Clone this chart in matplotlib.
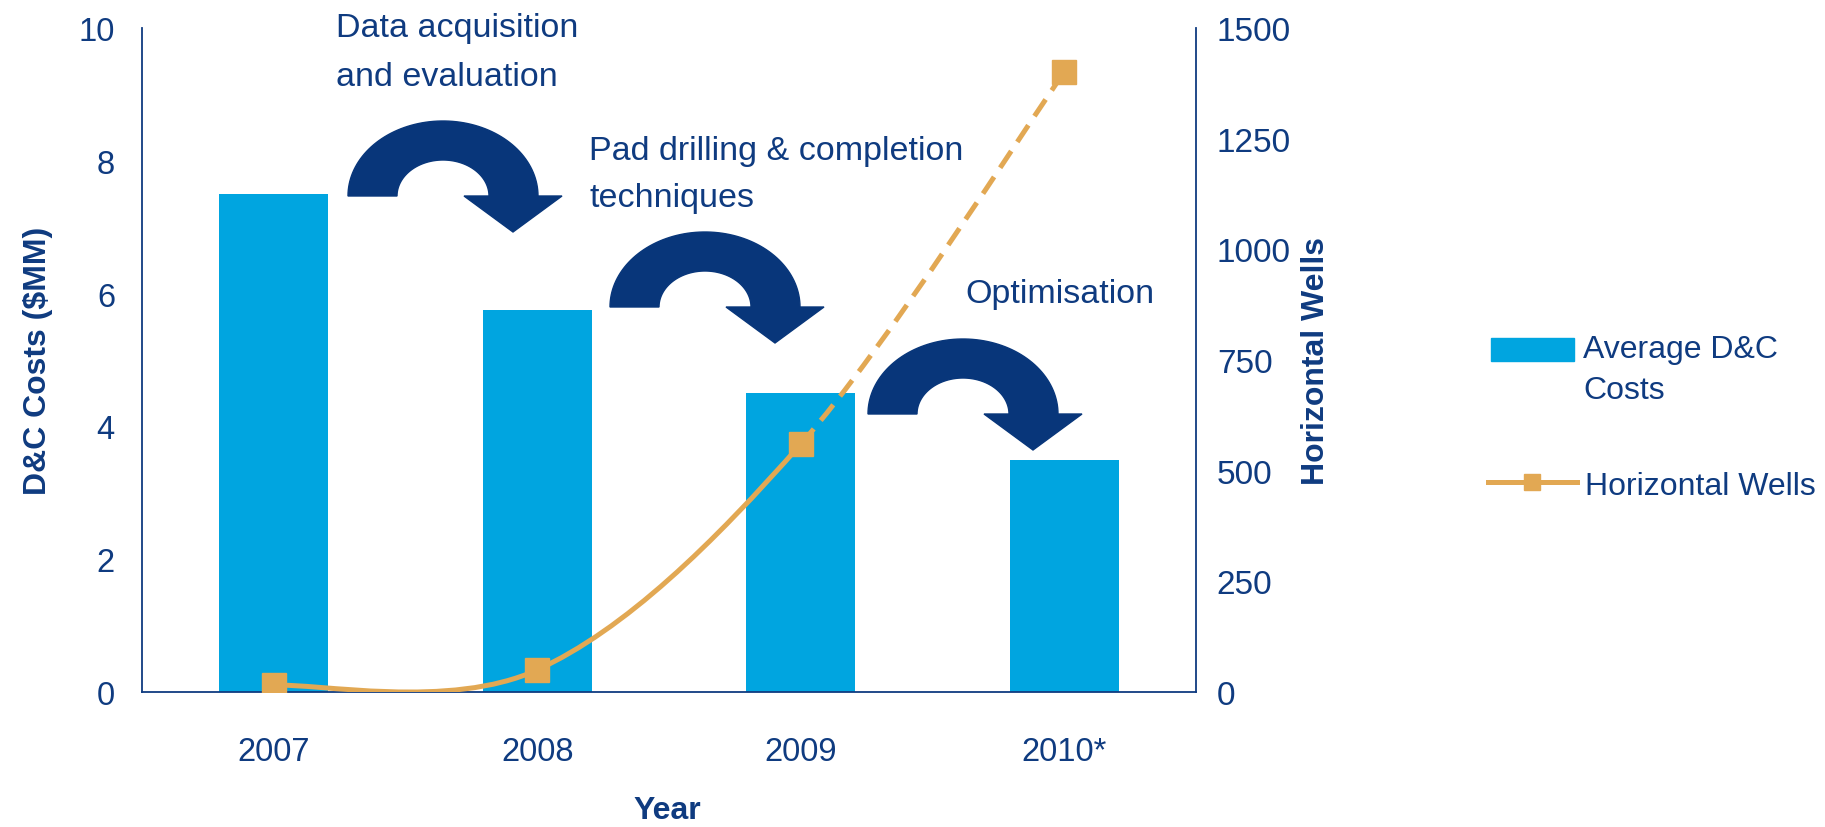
import numpy as np
import matplotlib.pyplot as plt
from matplotlib.path import Path
from matplotlib.patches import PathPatch, Polygon, Rectangle
from matplotlib.lines import Line2D

years = ["2007", "2008", "2009", "2010*"]
costs = [7.5, 5.75, 4.5, 3.5]      # $MM
wells = [15, 50, 560, 1400]        # horizontal wells
left_ticks = [0, 2, 4, 6, 8, 10]
right_ticks = [0, 250, 500, 750, 1000, 1250, 1500]

navy = "#0f3b80"
arrow_col = "#08367a"
blue = "#00a5e0"
orange = "#e2a853"

plt.rcParams['font.family'] = ['Liberation Sans', 'DejaVu Sans']

W, H = 1825, 828
fig = plt.figure(figsize=(W / 100, H / 100), dpi=100)


def fx(px):
    return px / W


def fy(py):
    return 1 - py / H


ax = fig.add_axes([fx(142), fy(693), (1196 - 142) / W, (693 - 29) / H])
x = np.arange(len(years))
ax.bar(x, costs, width=0.415, color=blue, zorder=2)
ax.set_xlim(-0.5, 3.5)
ax.set_ylim(0, 10)
ax.set_yticks(left_ticks)
ax.set_xticks(x, years)
ax.tick_params(length=0, labelsize=23.5, labelcolor=navy)
ax.tick_params(axis='x', pad=32)
ax.tick_params(axis='y', pad=19.5)
for s in ['top', 'right']:
    ax.spines[s].set_visible(False)
for s in ['left', 'bottom']:
    ax.spines[s].set_color(navy)
    ax.spines[s].set_linewidth(1.3)

ax2 = ax.twinx()
ax2.set_ylim(0, 1500)
ax2.set_yticks(right_ticks)
ax2.tick_params(length=0, labelsize=24, labelcolor=navy, pad=15)
for s in ['top', 'left', 'bottom']:
    ax2.spines[s].set_visible(False)
ax2.spines['right'].set_color(navy)
ax2.spines['right'].set_linewidth(1.3)


# smoothed line like the spreadsheet one (catmull-rom bezier through the points)
def bezier_segments(xs, ys):
    pts = np.column_stack([xs, ys]).astype(float)
    n = len(pts)
    segs = []
    for i in range(n - 1):
        p0 = pts[max(i - 1, 0)]
        p1 = pts[i]
        p2 = pts[i + 1]
        p3 = pts[min(i + 2, n - 1)]
        c1 = p1 + (p2 - p0) / 6
        c2 = p2 - (p3 - p1) / 6
        segs.append([p1, c1, c2, p2])
    return segs


def seg_path(segs):
    verts = [segs[0][0]]
    codes = [Path.MOVETO]
    for s in segs:
        verts += [s[1], s[2], s[3]]
        codes += [Path.CURVE4] * 3
    return Path(verts, codes)


segs = bezier_segments(x, wells)
solid = PathPatch(seg_path(segs[:2]), fill=False, ec=orange, lw=3.6,
                  transform=ax2.transData, zorder=3, capstyle='round')
dashed = PathPatch(seg_path(segs[2:]), fill=False, ec=orange, lw=3.6,
                   ls=(0, (4, 2.2)), transform=ax2.transData, zorder=3)
ax2.add_patch(solid)
ax2.add_patch(dashed)
ax2.plot(x, wells, ls='none', marker='s', ms=17, color=orange, zorder=4)

# axis titles
fig.text(fx(38), fy(361), "D&C Costs ($MM)", rotation=90, ha='center', va='center',
         fontsize=23, fontweight='bold', color=navy)
fig.text(fx(1316), fy(361), "Horizontal Wells", rotation=90, ha='center', va='center',
         fontsize=23, fontweight='bold', color=navy)
fig.text(fx(667), fy(811), "Year", ha='center', va='center',
         fontsize=23, fontweight='bold', color=navy)


# the three curved arrows
def curved_arrow(cx, cy):
    t = np.linspace(np.pi, 0, 80)
    outer = np.column_stack([cx + 95 * np.cos(t), cy - 75 * np.sin(t)])
    head = np.array([[cx + 119, cy], [cx + 70, cy + 36], [cx + 21, cy]])
    inner = np.column_stack([cx + 46 * np.cos(t[::-1]), cy - 36 * np.sin(t[::-1])])
    pts = np.vstack([outer, head, inner])
    pts = np.column_stack([fx(pts[:, 0]), fy(pts[:, 1])])
    fig.add_artist(Polygon(pts, closed=True, color=arrow_col, transform=fig.transFigure))


for cx, cy in [(443, 197), (705, 308), (963, 415)]:
    curved_arrow(cx, cy)

# step labels, one text per line (baselines)
steps = [
    (336, [(37, "Data acquisition"), (86, "and evaluation")]),
    (589, [(160, "Pad drilling & completion"), (207, "techniques")]),
    (965, [(303, "Optimisation")]),
]
for left, lines in steps:
    for base, txt in lines:
        fig.text(fx(left), fy(base), txt, ha='left', va='baseline',
                 fontsize=24.5, color=navy)

# legend
fig.add_artist(Rectangle((fx(1491), fy(362)), (1574 - 1491) / W, 23 / H,
                         color=blue, transform=fig.transFigure))
fig.text(fx(1583), fy(358), "Average D&C", ha='left', va='baseline', fontsize=23, color=navy)
fig.text(fx(1583), fy(399), "Costs", ha='left', va='baseline', fontsize=23, color=navy)
fig.add_artist(Line2D([fx(1488), fx(1577)], [fy(483), fy(483)], color=orange, lw=3.6,
                      transform=fig.transFigure))
fig.add_artist(Line2D([fx(1532)], [fy(483)], color=orange, ls='none', marker='s', ms=12,
                      transform=fig.transFigure))
fig.text(fx(1585), fy(495), "Horizontal Wells", ha='left', va='baseline',
         fontsize=23, color=navy)

fig.savefig("out.png", dpi=100)
